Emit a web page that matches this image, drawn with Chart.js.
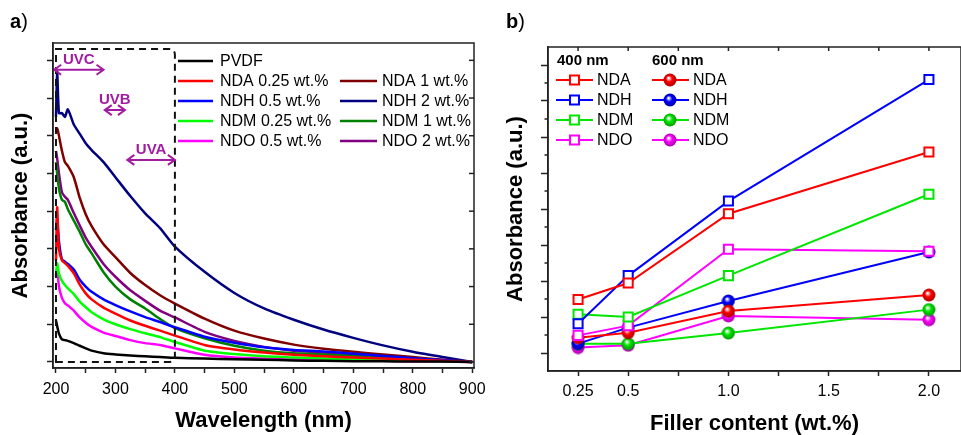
<!DOCTYPE html>
<html>
<head>
<meta charset="utf-8">
<title>Absorbance</title>
<script src="https://cdn.jsdelivr.net/npm/chart.js@4.4.0/dist/chart.umd.min.js"></script>
<style>
  html, body { margin: 0; padding: 0; background: #fff; }
  #wrap { position: relative; width: 961px; height: 435px; overflow: hidden; }
  canvas { position: absolute; top: 0; }
  #chartA { left: 0; }
  #chartB { left: 480px; }
  .panel { position: absolute; top: 10px; font: bold 20px "Liberation Sans", Arial, sans-serif; }
  .panel span { font-weight: normal; }
</style>
</head>
<body>
<div id="wrap">
  <canvas id="chartA" width="500" height="435"></canvas>
  <canvas id="chartB" width="481" height="435"></canvas>
  <div class="panel" style="left:10px">a<span>)</span></div>
  <div class="panel" style="left:506px">b<span>)</span></div>
</div>
<script>
// ---- panel a) : spectra ----
const wavelength = [200, 202, 205, 210, 215, 220, 230, 240, 250, 260, 280, 300, 325, 350, 375, 400, 450, 500, 550, 600, 650, 700, 750, 800, 850, 900];
const absPVDF   = [1.10, 0.95, 0.75, 0.60, 0.58, 0.56, 0.50, 0.43, 0.36, 0.30, 0.23, 0.20, 0.17, 0.15, 0.13, 0.11, 0.09, 0.07, 0.06, 0.04, 0.03, 0.02, 0.02, 0.01, 0.01, 0];
const absNDA025 = [2.70, 4.10, 3.00, 2.70, 2.62, 2.55, 2.35, 2.05, 1.82, 1.66, 1.44, 1.28, 1.10, 0.96, 0.83, 0.70, 0.45, 0.33, 0.25, 0.19, 0.15, 0.12, 0.09, 0.06, 0.03, 0];
const absNDH05  = [3.50, 3.80, 3.20, 2.72, 2.66, 2.60, 2.45, 2.18, 2.00, 1.86, 1.66, 1.51, 1.34, 1.19, 1.06, 0.92, 0.67, 0.51, 0.39, 0.32, 0.28, 0.22, 0.16, 0.10, 0.05, 0];
const absNDM025 = [2.25, 2.62, 2.35, 2.15, 2.04, 1.95, 1.80, 1.60, 1.45, 1.32, 1.13, 1.00, 0.87, 0.76, 0.66, 0.53, 0.30, 0.21, 0.15, 0.12, 0.09, 0.07, 0.05, 0.03, 0.02, 0];
const absNDO05  = [2.30, 2.50, 2.00, 1.70, 1.56, 1.50, 1.36, 1.18, 1.04, 0.93, 0.78, 0.69, 0.58, 0.50, 0.45, 0.36, 0.19, 0.12, 0.09, 0.07, 0.05, 0.04, 0.03, 0.02, 0.01, 0];
const absNDA1   = [6.10, 6.20, 6.00, 5.60, 5.30, 5.20, 4.90, 4.35, 3.92, 3.60, 3.12, 2.78, 2.36, 2.04, 1.77, 1.55, 1.15, 0.83, 0.62, 0.46, 0.35, 0.27, 0.20, 0.13, 0.06, 0];
const absNDH2   = [6.50, 7.70, 6.60, 6.60, 6.50, 6.70, 6.30, 6.05, 5.80, 5.62, 5.30, 4.90, 4.40, 3.94, 3.55, 3.06, 2.39, 1.83, 1.42, 1.12, 0.86, 0.64, 0.44, 0.27, 0.13, 0];
const absNDM1   = [5.30, 5.00, 4.60, 4.30, 4.25, 4.05, 3.75, 3.45, 3.12, 2.88, 2.38, 2.00, 1.66, 1.42, 1.14, 0.90, 0.63, 0.43, 0.30, 0.23, 0.20, 0.16, 0.12, 0.08, 0.04, 0];
const absNDO2   = [5.60, 5.40, 5.00, 4.50, 4.38, 4.30, 3.95, 3.62, 3.30, 3.05, 2.60, 2.26, 1.90, 1.62, 1.36, 1.18, 0.80, 0.56, 0.40, 0.30, 0.25, 0.19, 0.14, 0.09, 0.04, 0];
const seriesNamesA = ['PVDF', 'NDA 0.25 wt.%', 'NDH 0.5 wt.%', 'NDM 0.25 wt.%', 'NDO 0.5 wt.%',
                      'NDA 1 wt.%', 'NDH 2 wt.%', 'NDM 1 wt.%', 'NDO 2 wt.%'];
const seriesA = [absPVDF, absNDA025, absNDH05, absNDM025, absNDO05, absNDA1, absNDH2, absNDM1, absNDO2];
const xTicksA = [200, 250, 300, 350, 400, 450, 500, 550, 600, 650, 700, 750, 800, 850, 900];
const yTicksA = [0, 1, 2, 3, 4, 5, 6, 7, 8];
const uvNames = ['UVC', 'UVB', 'UVA'];
const uvFrom  = [197, 282, 320];
const uvTo    = [280, 316, 400];
const uvLevel = [7.75, 6.68, 5.36];
const uvBox   = [200, 400, 0, 8.3]; // nm from, nm to, abs from, abs to

// ---- panel b) : absorbance vs filler content ----
const fillerContent = [0.25, 0.5, 1.0, 2.0];
const nda400 = [2.97, 3.89, 7.74, 11.17];
const ndh400 = [1.63, 4.30, 8.44, 15.19];
const ndm400 = [2.15, 2.00, 4.30, 8.82];
const ndo400 = [0.98, 1.52, 5.76, 5.65];
const nda600 = [0.85, 1.13, 2.33, 3.22];
const ndh600 = [0.52, 1.41, 2.89, 5.61];
const ndm600 = [0.52, 0.52, 1.11, 2.41];
const ndo600 = [0.30, 0.43, 2.06, 1.85];
const namesB = ['NDA', 'NDH', 'NDM', 'NDO'];
const xTicksB = [0.25, 0.5, 0.75, 1.0, 1.25, 1.5, 1.75, 2.0];
const xLabelsB = ['0.25', '0.5', '', '1.0', '', '1.5', '', '2.0'];
const yTicksB = [0, 2, 4, 6, 8, 10, 12, 14, 16];
const yMinorB = [1, 3, 5, 7, 9, 11, 13, 15];

const FONT = '"Liberation Sans", Arial, sans-serif';
Chart.defaults.font.family = FONT;
Chart.defaults.color = '#000';

const colorsA = ['#000000', '#ff0000', '#0000ff', '#00ff00', '#ff00ff', '#800000', '#000080', '#008000', '#800080'];
const colorsB = ['#ff0000', '#0000ff', '#00e600', '#ff00ff'];
const darkB = ['#a00000', '#0000a0', '#009000', '#a000a0'];

// shaded ball used as point marker for the 600 nm series
const makeBall = (color, dark) => {
  const c = document.createElement('canvas');
  c.width = c.height = 14;
  const g = c.getContext('2d');
  const grad = g.createRadialGradient(5.5, 5, 0.5, 7, 7, 7);
  grad.addColorStop(0, '#ffffff');
  grad.addColorStop(0.4, color);
  grad.addColorStop(1, dark);
  g.fillStyle = grad;
  g.beginPath();
  g.arc(7, 7, 6.5, 0, Math.PI * 2);
  g.fill();
  return c;
};
const balls = colorsB.map((c, i) => makeBall(c, darkB[i]));

// box around the plot area, mirrored and minor ticks
const frame = {
  id: 'frame',
  afterDraw(chart, args, opts) {
    const { ctx, chartArea: a } = chart;
    const line = (x1, y1, x2, y2) => { ctx.beginPath(); ctx.moveTo(x1, y1); ctx.lineTo(x2, y2); ctx.stroke(); };
    ctx.save();
    ctx.strokeStyle = '#222';
    ctx.lineWidth = 1.5;
    ctx.strokeRect(a.left, a.top, a.right - a.left, a.bottom - a.top);
    if (opts.mirrorY) {
      chart.scales.y.ticks.forEach(t => {
        const y = chart.scales.y.getPixelForValue(t.value);
        line(a.right, y, a.right - 5, y);
      });
    }
    if (opts.mirrorX) {
      chart.scales.x.ticks.forEach(t => {
        const x = chart.scales.x.getPixelForValue(t.value);
        line(x, a.top, x, a.top + 4);
      });
    }
    (opts.minorY || []).forEach(v => {
      const y = chart.scales.y.getPixelForValue(v);
      line(a.left, y, a.left - 3.5, y);
    });
    ctx.restore();
  }
};

// dashed UV region with the band arrows
const uvMarks = {
  id: 'uvMarks',
  afterDatasetsDraw(chart) {
    const { ctx, scales: { x, y } } = chart;
    const l = x.getPixelForValue(uvBox[0]), r = x.getPixelForValue(uvBox[1]);
    const b = y.getPixelForValue(uvBox[2]), t = y.getPixelForValue(uvBox[3]);
    ctx.save();
    ctx.setLineDash([7, 5]);
    ctx.lineWidth = 2;
    ctx.strokeStyle = '#111';
    ctx.beginPath();
    ctx.moveTo(l, b);
    ctx.lineTo(l, t);
    ctx.lineTo(r - 6, t);
    ctx.quadraticCurveTo(r, t, r, t + 6);
    ctx.lineTo(r, b - 5);
    ctx.quadraticCurveTo(r, b, r - 6, b);
    ctx.closePath();
    ctx.stroke();
    ctx.setLineDash([]);

    ctx.strokeStyle = '#a21ca2';
    ctx.fillStyle = '#a21ca2';
    ctx.lineWidth = 2;
    ctx.font = 'bold 15px ' + FONT;
    ctx.textAlign = 'center';
    ctx.textBaseline = 'middle';
    uvNames.forEach((name, i) => {
      const x1 = x.getPixelForValue(uvFrom[i]), x2 = x.getPixelForValue(uvTo[i]);
      const yy = y.getPixelForValue(uvLevel[i]);
      ctx.beginPath();
      ctx.moveTo(x1, yy); ctx.lineTo(x2, yy);
      ctx.moveTo(x1 + 7, yy - 5); ctx.lineTo(x1, yy); ctx.lineTo(x1 + 7, yy + 5);
      ctx.moveTo(x2 - 7, yy - 5); ctx.lineTo(x2, yy); ctx.lineTo(x2 - 7, yy + 5);
      ctx.stroke();
      ctx.fillText(name, (x1 + x2) / 2, yy - 10);
    });
    ctx.restore();
  }
};

// legend for panel a): PVDF alone on the first row, then two columns
const legendA = {
  id: 'legendA',
  afterDraw(chart) {
    const ctx = chart.ctx;
    const col = [{ x1: 178, x2: 213, tx: 220 }, { x1: 340, x2: 377, tx: 382 }];
    ctx.save();
    ctx.font = '16px ' + FONT;
    ctx.textBaseline = 'middle';
    ctx.textAlign = 'left';
    ctx.lineWidth = 2.5;
    chart.data.datasets.forEach((ds, i) => {
      const c = i < 5 ? col[0] : col[1];
      const row = i < 5 ? i : i - 4;
      const yy = 61 + row * 20;
      ctx.strokeStyle = ds.borderColor;
      ctx.beginPath(); ctx.moveTo(c.x1, yy); ctx.lineTo(c.x2, yy); ctx.stroke();
      ctx.fillStyle = '#000';
      ctx.fillText(ds.label, c.tx, yy + 1);
    });
    ctx.restore();
  }
};

// legend for panel b)
const legendB = {
  id: 'legendB',
  afterDraw(chart) {
    const ctx = chart.ctx;
    ctx.save();
    ctx.textBaseline = 'middle';
    ctx.textAlign = 'left';
    ctx.fillStyle = '#000';
    ctx.font = 'bold 15px ' + FONT;
    ctx.fillText('400 nm', 77, 61);
    ctx.fillText('600 nm', 172, 61);
    ctx.font = '16px ' + FONT;
    namesB.forEach((name, i) => {
      const yy = 80 + i * 20;
      ctx.lineWidth = 2;
      ctx.strokeStyle = colorsB[i];
      ctx.beginPath(); ctx.moveTo(76, yy); ctx.lineTo(113, yy); ctx.stroke();
      ctx.fillStyle = '#fff';
      ctx.fillRect(90, yy - 4.5, 9, 9);
      ctx.strokeRect(90, yy - 4.5, 9, 9);
      ctx.beginPath(); ctx.moveTo(172, yy); ctx.lineTo(209, yy); ctx.stroke();
      ctx.drawImage(balls[i], 183, yy - 7);
      ctx.fillStyle = '#000';
      ctx.fillText(name, 117, yy + 1);
      ctx.fillText(name, 213, yy + 1);
    });
    ctx.restore();
  }
};

const axisBorder = { display: true, color: '#222', width: 1.5 };
// fixed axis sizes so the plot areas land where the original ones are
const fixX = h => s => { s.height = h; s.paddingLeft = 0; s.paddingRight = 0; };
const fixY = w => s => { s.width = w; s.paddingTop = 0; s.paddingBottom = 0; };

new Chart(document.getElementById('chartA'), {
  type: 'line',
  data: {
    datasets: seriesA.map((vals, i) => ({
      label: seriesNamesA[i],
      data: wavelength.map((w, k) => ({ x: w, y: vals[k] })),
      borderColor: colorsA[i],
      borderWidth: 2.5,
      pointRadius: 0,
      tension: 0.2,
      fill: false
    }))
  },
  options: {
    responsive: false,
    animation: false,
    layout: { autoPadding: false, padding: { top: 43, right: 26, left: 0, bottom: 0 } },
    plugins: { legend: { display: false }, tooltip: { enabled: false }, frame: { mirrorY: true } },
    scales: {
      x: {
        type: 'linear', min: 195, max: 903,
        afterBuildTicks: s => { s.ticks = xTicksA.map(v => ({ value: v })); },
        afterFit: fixX(67),
        ticks: { font: { size: 16 }, padding: 7, maxRotation: 0, autoSkip: false,
                 callback: v => (v % 100 === 0 ? String(v) : '') },
        grid: { drawOnChartArea: false, tickLength: 5, tickColor: '#222', tickWidth: 1.5 },
        border: axisBorder,
        title: { display: true, text: 'Wavelength (nm)', font: { size: 22, weight: 'bold', lineHeight: 1 }, padding: { top: 0, bottom: 3 } }
      },
      y: {
        type: 'linear', min: -0.16, max: 8.46,
        afterBuildTicks: s => { s.ticks = yTicksA.map(v => ({ value: v })); },
        afterFit: fixY(53),
        ticks: { callback: () => '' },
        grid: { drawOnChartArea: false, tickLength: 6, tickColor: '#222', tickWidth: 1.5 },
        border: axisBorder,
        title: { display: true, text: 'Absorbance (a.u.)', font: { size: 22, weight: 'bold', lineHeight: 1 }, padding: { top: 10, bottom: 0 } }
      }
    }
  },
  plugins: [frame, uvMarks, legendA]
});

const seriesB400 = [nda400, ndh400, ndm400, ndo400];
const seriesB600 = [nda600, ndh600, ndm600, ndo600];
const datasetsB = [
  ...seriesB400.map((vals, i) => ({
    label: namesB[i] + ' 400 nm',
    data: fillerContent.map((f, k) => ({ x: f, y: vals[k] })),
    borderColor: colorsB[i],
    borderWidth: 2,
    pointStyle: 'rect',
    pointRadius: 6.4,
    pointBorderWidth: 2,
    pointBackgroundColor: '#fff',
    pointBorderColor: colorsB[i]
  })),
  ...seriesB600.map((vals, i) => ({
    label: namesB[i] + ' 600 nm',
    data: fillerContent.map((f, k) => ({ x: f, y: vals[k] })),
    borderColor: colorsB[i],
    borderWidth: 2,
    pointStyle: balls[i],
    pointRadius: 6.5
  }))
];

new Chart(document.getElementById('chartB'), {
  type: 'line',
  data: { datasets: datasetsB },
  options: {
    responsive: false,
    animation: false,
    layout: { autoPadding: false, padding: { top: 47, right: 0, left: 0, bottom: 0 } },
    plugins: { legend: { display: false }, tooltip: { enabled: false }, frame: { mirrorX: true, minorY: yMinorB } },
    scales: {
      x: {
        type: 'linear', min: 0.1, max: 2.16,
        afterBuildTicks: s => { s.ticks = xTicksB.map(v => ({ value: v })); },
        afterFit: fixX(64),
        ticks: { font: { size: 16 }, padding: 6, maxRotation: 0, autoSkip: false,
                 callback: (v, i) => xLabelsB[i] },
        grid: { drawOnChartArea: false, tickLength: 5, tickColor: '#222', tickWidth: 1.5 },
        border: axisBorder,
        title: { display: true, text: 'Filler content (wt.%)', font: { size: 22, weight: 'bold', lineHeight: 1 }, padding: { top: 0, bottom: 0 } }
      },
      y: {
        type: 'linear', min: -1, max: 17,
        afterBuildTicks: s => { s.ticks = yTicksB.map(v => ({ value: v })); },
        afterFit: fixY(68),
        ticks: { callback: () => '' },
        grid: { drawOnChartArea: false, tickLength: 7, tickColor: '#222', tickWidth: 1.5 },
        border: axisBorder,
        title: { display: true, text: 'Absorbance (a.u.)', font: { size: 22, weight: 'bold', lineHeight: 1 }, padding: { top: 25, bottom: 0 } }
      }
    }
  },
  plugins: [frame, legendB]
});
</script>
</body>
</html>
